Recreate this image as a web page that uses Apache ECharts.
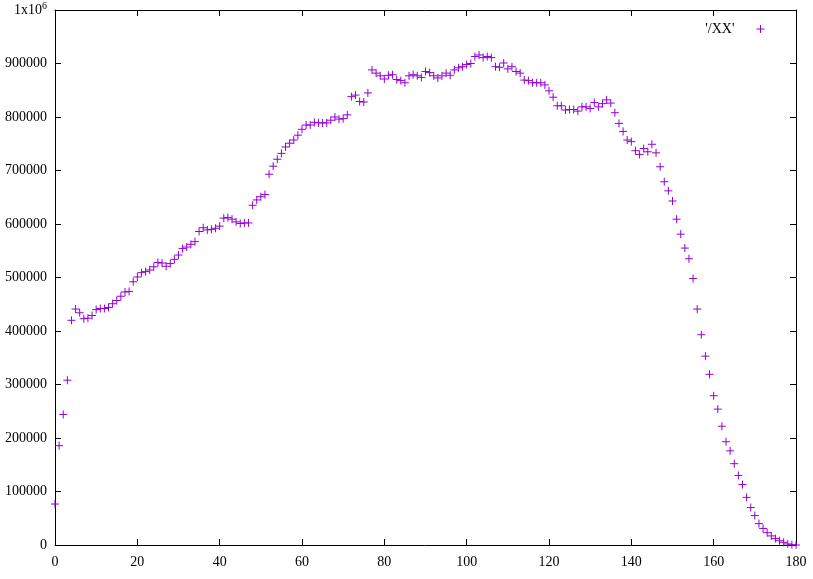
<!DOCTYPE html>
<html>
<head>
<meta charset="utf-8">
<script src="https://cdn.jsdelivr.net/npm/echarts@6/dist/echarts.min.js"></script>
<style>
html,body{margin:0;padding:0;background:#fff;}
#chart{width:813px;height:579px;}
</style>
</head>
<body>
<div id="chart"></div>
<script>
// Series name
var seriesName = "'/XX'";
// Y values at x = 0, 1, 2, ... 180
var values = [
  76600, 185600, 244000, 308000, 420000, 441000, 434000, 423000, 424000, 429000,
  440000, 442000, 442000, 444000, 451000, 457000, 465000, 473000, 474000, 492000,
  501000, 509000, 511000, 514000, 520000, 528000, 527000, 521000, 526000, 534000,
  542000, 554000, 557000, 562000, 567000, 586000, 593000, 589000, 590000, 592000,
  596000, 611000, 612000, 609000, 604000, 601000, 602000, 602000, 635000, 645000,
  651000, 655000, 693000, 708000, 721000, 732000, 744000, 751000, 757000, 766000,
  777000, 785000, 785000, 790000, 789000, 789000, 789000, 794000, 800000, 796000,
  797000, 804000, 838000, 841000, 829000, 828000, 845000, 888000, 882000, 877000,
  871000, 878000, 879000, 870000, 868000, 864000, 877000, 879000, 877000, 874000,
  885000, 883000, 877000, 873000, 877000, 882000, 878000, 888000, 892000, 894000,
  898000, 900000, 913000, 916000, 911000, 913000, 911000, 894000, 893000, 901000,
  890000, 894000, 885000, 882000, 869000, 868000, 864000, 864000, 864000, 860000,
  849000, 837000, 821000, 821000, 813000, 814000, 814000, 811000, 819000, 819000,
  816000, 827000, 819000, 825000, 832000, 826000, 808000, 788000, 773000, 757000,
  754000, 737000, 730000, 741000, 735000, 749000, 733000, 707000, 679000, 662000,
  643000, 609000, 581000, 555000, 535000, 498000, 441000, 393000, 353000, 319000,
  279000, 254000, 222000, 193000, 176000, 152000, 130000, 113000, 89000, 70000,
  55000, 40000, 31000, 23000, 17000, 12000, 8000, 5000, 2000, 500,
  0
];
// Axis ranges / ticks
var xMin = 0, xMax = 180, xStep = 20;
var yMin = 0, yMax = 1000000, yStep = 100000;

var FONT = 'Liberation Serif';
var COLOR = '#9400d3';
var plusPath = 'path://M0,5L10,5M5,0L5,10';

var points = values.map(function (v, i) { return [i, v]; });

var chart = echarts.init(document.getElementById('chart'), null, {renderer: 'canvas'});

var tickStyle = {show: true, inside: true, length: 6, lineStyle: {color: '#000', width: 1}};
var lineStyle = {show: true, onZero: false, lineStyle: {color: '#000', width: 1}};

chart.setOption({
  animation: false,
  backgroundColor: '#fff',
  grid: {left: 55, right: 17, top: 10, bottom: 34, containLabel: false},
  legend: {
    data: [seriesName],
    right: 46,
    top: 22,
    padding: 0,
    align: 'right',
    icon: plusPath,
    itemWidth: 8,
    itemHeight: 8,
    itemStyle: {color: 'none', borderColor: COLOR, borderWidth: 1},
    textStyle: {fontFamily: FONT, fontSize: 14, color: '#000', padding: [0, 17, 0, 0]}
  },
  xAxis: [{
    type: 'value', min: xMin, max: xMax, interval: xStep,
    position: 'bottom',
    axisLine: lineStyle, axisTick: tickStyle,
    splitLine: {show: false},
    axisLabel: {fontFamily: FONT, fontSize: 14, color: '#000', margin: 10, showMaxLabel: true, showMinLabel: true}
  }, {
    type: 'value', min: xMin, max: xMax, interval: xStep,
    position: 'top',
    axisLine: lineStyle, axisTick: tickStyle,
    splitLine: {show: false},
    axisLabel: {show: false}
  }],
  yAxis: [{
    type: 'value', min: yMin, max: yMax, interval: yStep,
    position: 'left',
    axisLine: lineStyle, axisTick: tickStyle,
    splitLine: {show: false},
    axisLabel: {
      fontFamily: FONT, fontSize: 14, color: '#000', margin: 8,
      showMaxLabel: true, showMinLabel: true,
      formatter: function (v) {
        if (v === 1000000) return '{a|1x10}{s|6}';
        return String(v);
      },
      rich: {
        a: {fontFamily: FONT, fontSize: 14, color: '#000'},
        s: {fontFamily: FONT, fontSize: 10, color: '#000', verticalAlign: 'bottom', padding: [0, 0, 7, 0]}
      }
    }
  }, {
    type: 'value', min: yMin, max: yMax, interval: yStep,
    position: 'right',
    axisLine: lineStyle, axisTick: tickStyle,
    splitLine: {show: false},
    axisLabel: {show: false}
  }],
  series: [{
    name: seriesName,
    type: 'scatter',
    xAxisIndex: 0,
    yAxisIndex: 0,
    data: points,
    symbol: plusPath,
    symbolSize: 8,
    itemStyle: {color: 'none', borderColor: COLOR, borderWidth: 1, opacity: 1},
    emphasis: {disabled: true}
  }]
});
</script>
</body>
</html>
